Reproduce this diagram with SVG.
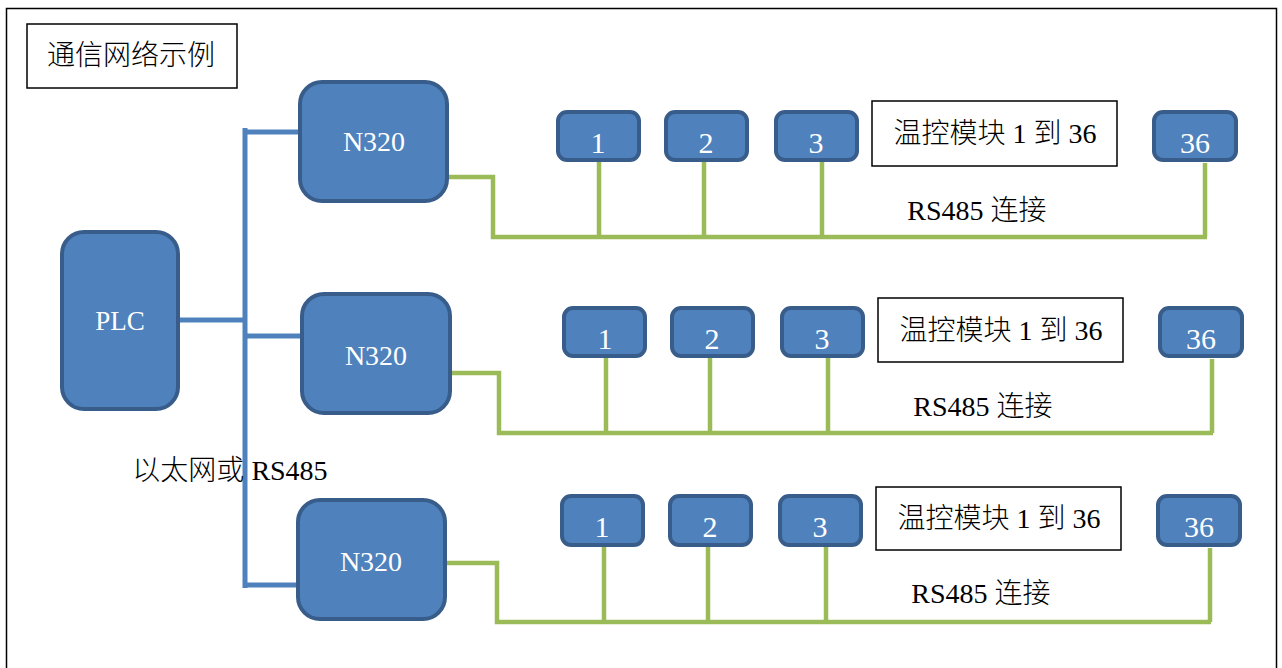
<svg xmlns="http://www.w3.org/2000/svg" width="1282" height="668" viewBox="0 0 1282 668">
<style>
.node{fill:#4F81BD;stroke:#385D8A;stroke-width:4}
.wt{fill:#fff;font-family:"Liberation Serif",serif;text-anchor:middle}
.bt{fill:#000;font-family:"Liberation Serif","Noto Sans CJK SC",serif;text-anchor:middle}
.lat{font-family:"Liberation Serif",serif}
.cjk{font-family:"Noto Sans CJK SC",sans-serif;font-weight:300}
.box{fill:#fff;stroke:#000;stroke-width:1.5}
.blue{fill:none;stroke:#4F81BD;stroke-width:5}
.green{fill:none;stroke:#9BBB59;stroke-width:4.5}
</style>
<rect x="0" y="0" width="1282" height="668" fill="#fff"/>
<rect x="6.5" y="8.5" width="1270" height="670" fill="none" stroke="#000" stroke-width="1.5"/>
<g id="title"><rect class="box" x="27" y="24" width="210" height="64"/><text class="bt" x="131" y="65" font-size="28"><tspan class="cjk">通信网络示例</tspan></text></g>
<g id="connectors">
<path class="blue" d="M245 128V588M179 320H245M245 132H300M245 336H302M245 585H297"/>
<path class="green" d="M446 177H493V237H1207M599 161V237M704 161V237M822 161V237M1205 163V237"/>
<path class="green" d="M451 373H499V433H1213M606 357V433M710 357V433M828 357V433M1212 359V433"/>
<path class="green" d="M446 563H497V622H1211M604 546V622M708 546V622M826 546V622M1210 548V622"/>
</g>
<g id="plc"><rect class="node" x="62" y="232" width="116" height="177" rx="22"/><text class="wt" x="120" y="330" font-size="27">PLC</text></g>
<g id="n320-1"><rect class="node" x="300" y="82" width="147" height="119" rx="22"/><text class="wt" x="374" y="151" font-size="28">N320</text></g>
<g id="n320-2"><rect class="node" x="302" y="294" width="148" height="119" rx="22"/><text class="wt" x="376" y="365" font-size="28">N320</text></g>
<g id="n320-3"><rect class="node" x="298" y="500" width="147" height="119" rx="22"/><text class="wt" x="371" y="571" font-size="28">N320</text></g>
<g id="r1-m1"><rect class="node" x="558" y="112" width="81" height="48" rx="9"/><text class="wt" x="598" y="153" font-size="30">1</text></g>
<g id="r1-m2"><rect class="node" x="666" y="112" width="81" height="48" rx="9"/><text class="wt" x="706" y="153" font-size="30">2</text></g>
<g id="r1-m3"><rect class="node" x="776" y="112" width="81" height="48" rx="9"/><text class="wt" x="816" y="153" font-size="30">3</text></g>
<g id="r1-m36"><rect class="node" x="1154" y="112" width="82" height="48" rx="9"/><text class="wt" x="1195" y="153" font-size="30">36</text></g>
<g id="r1-label"><rect class="box" x="872" y="101" width="245" height="65"/><text class="bt" x="995" y="143" font-size="28"><tspan class="cjk">温控模块</tspan><tspan class="lat"> 1 </tspan><tspan class="cjk">到</tspan><tspan class="lat"> 36</tspan></text></g>
<text class="bt" x="977" y="220" font-size="28"><tspan class="lat">RS485 </tspan><tspan class="cjk">连接</tspan></text>
<g id="r2-m1"><rect class="node" x="564" y="308" width="81" height="48" rx="9"/><text class="wt" x="605" y="349" font-size="30">1</text></g>
<g id="r2-m2"><rect class="node" x="672" y="308" width="81" height="48" rx="9"/><text class="wt" x="712" y="349" font-size="30">2</text></g>
<g id="r2-m3"><rect class="node" x="782" y="308" width="81" height="48" rx="9"/><text class="wt" x="822" y="349" font-size="30">3</text></g>
<g id="r2-m36"><rect class="node" x="1160" y="308" width="82" height="48" rx="9"/><text class="wt" x="1201" y="349" font-size="30">36</text></g>
<g id="r2-label"><rect class="box" x="878" y="298" width="245" height="64"/><text class="bt" x="1001" y="340" font-size="28"><tspan class="cjk">温控模块</tspan><tspan class="lat"> 1 </tspan><tspan class="cjk">到</tspan><tspan class="lat"> 36</tspan></text></g>
<text class="bt" x="983" y="416" font-size="28"><tspan class="lat">RS485 </tspan><tspan class="cjk">连接</tspan></text>
<g id="r3-m1"><rect class="node" x="562" y="496" width="81" height="49" rx="9"/><text class="wt" x="602" y="537" font-size="30">1</text></g>
<g id="r3-m2"><rect class="node" x="670" y="496" width="81" height="49" rx="9"/><text class="wt" x="710" y="537" font-size="30">2</text></g>
<g id="r3-m3"><rect class="node" x="780" y="496" width="81" height="49" rx="9"/><text class="wt" x="820" y="537" font-size="30">3</text></g>
<g id="r3-m36"><rect class="node" x="1158" y="496" width="82" height="49" rx="9"/><text class="wt" x="1199" y="537" font-size="30">36</text></g>
<g id="r3-label"><rect class="box" x="876" y="487" width="245" height="63"/><text class="bt" x="999" y="528" font-size="28"><tspan class="cjk">温控模块</tspan><tspan class="lat"> 1 </tspan><tspan class="cjk">到</tspan><tspan class="lat"> 36</tspan></text></g>
<text class="bt" x="981" y="603" font-size="28"><tspan class="lat">RS485 </tspan><tspan class="cjk">连接</tspan></text>
<text class="bt" x="230" y="480" font-size="28"><tspan class="cjk">以太网或</tspan><tspan class="lat"> RS485</tspan></text>
</svg>
